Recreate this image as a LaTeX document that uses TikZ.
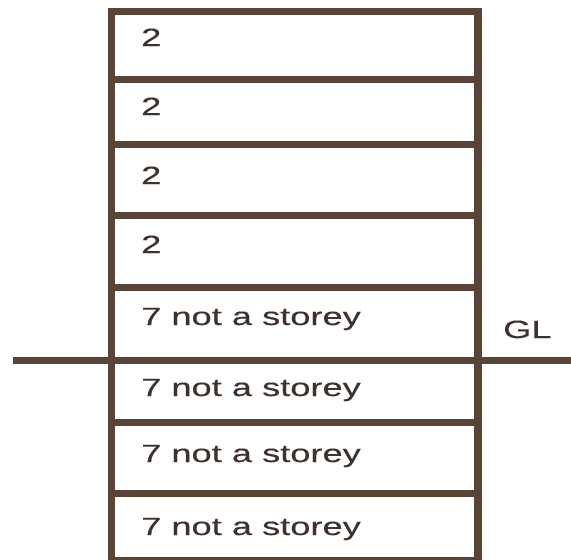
\documentclass[tikz,border=0pt]{standalone}
\usepackage{fontspec}
\setmainfont{Liberation Sans}
\newfontfamily\widesans[FakeStretch=1.45,FakeBold=0.4]{Liberation Sans}
\definecolor{wall}{RGB}{90,68,56}
\definecolor{ink}{RGB}{62,50,45}
\begin{document}
\begin{tikzpicture}[x=1pt,y=-1pt,
  wallline/.style={draw=wall,line width=7.5pt},
  floorline/.style={draw=wall,line width=7pt},
  label/.style={anchor=base west,inner sep=0pt,text=ink,font=\widesans\fontsize{25}{25}\selectfont}]
\useasboundingbox (0,0) rectangle (571,560);
% floor slabs
\foreach \y in {79,144.5,215,287,422.5,493}
  \draw[floorline] (111.5,\y) -- (478,\y);
% ground line
\coordinate (gll) at (12.5,360);
\coordinate (glr) at (571,360);
\draw[floorline] (gll) -- (glr);
% outer walls
\draw[wallline,line join=miter] (111.5,560.5) rectangle (478,11.5);
% storey labels
\node[label] (s1) at (141,46) {2};
\node[label] (s2) at (141,115) {2};
\node[label] (s3) at (141,184) {2};
\node[label] (s4) at (141,253) {2};
\node[label] (n1) at (141,325) {7 not a storey};
\node[label] (n2) at (141,396) {7 not a storey};
\node[label] (n3) at (141,462) {7 not a storey};
\node[label] (n4) at (141,535) {7 not a storey};
\node[label] (gl) at (503,338) {GL};
\end{tikzpicture}
\end{document}
